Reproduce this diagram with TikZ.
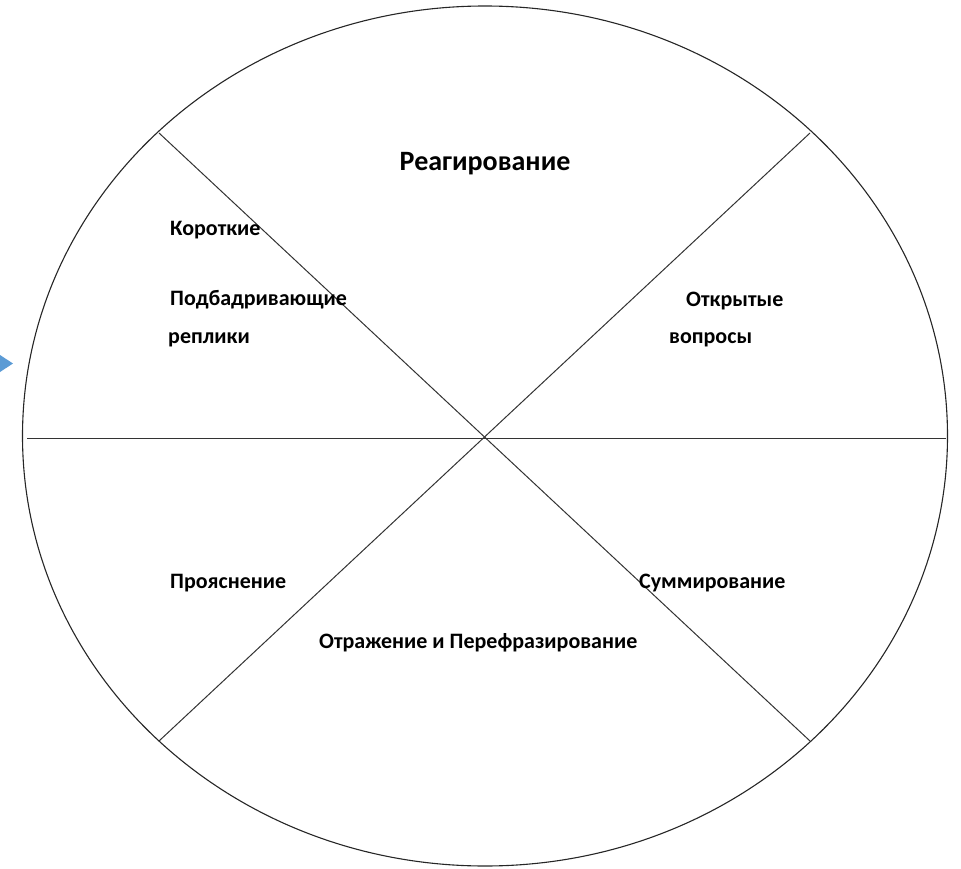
\documentclass[tikz,border=0pt]{standalone}
\usepackage{fontspec}
\setmainfont{Carlito}
\usetikzlibrary{positioning}

\definecolor{markblue}{RGB}{91,155,213}

\begin{document}
\begin{tikzpicture}[
        x=1pt, y=-1pt,
        rim/.style={draw=black!85, line width=1.1pt},
        spoke/.style={draw=black!80, line width=1pt},
        label/.style={anchor=base west, inner sep=0pt, font=\fontsize{22}{26}\selectfont\bfseries},
        title/.style={anchor=base, inner sep=0pt, font=\fontsize{28}{32}\selectfont\bfseries}
      ]
        \useasboundingbox (0,0) rectangle (961,869);

        % Wheel
        \coordinate (hub) at (485,436);
        \draw[rim] (hub) ellipse [x radius=462.5, y radius=430];

        % Spokes
        \coordinate (ul) at (159,133);
        \coordinate (ur) at (810,133);
        \coordinate (ll) at (159,741);
        \coordinate (lr) at (810,741);
        \coordinate (west) at (27,438);
        \coordinate (east) at (946,438);
        \draw[spoke] (ul) -- (lr);
        \draw[spoke] (ur) -- (ll);
        \draw[spoke] (west) -- (east);

        % Marker
        \fill[markblue] (0,355) -- (13,363.5) -- (0,372) -- cycle;

        % Sectors
        \node[title] (react) at (485,171) {Реагирование};
        \node[label] (short) at (170,236) {Короткие};
        \node[label] (cheer) at (170,305) {Подбадривающие};
        \node[label] (replies) at (168,343) {реплики};
        \node[label] (open) at (686,306) {Открытые};
        \node[label] (questions) at (669,343) {вопросы};
        \node[label] (clarify) at (170,588) {Прояснение};
        \node[label] (summary) at (639,588) {Суммирование};
        \node[label] (reflect) at (319,648) {Отражение и Перефразирование};

      \end{tikzpicture}
\end{document}
